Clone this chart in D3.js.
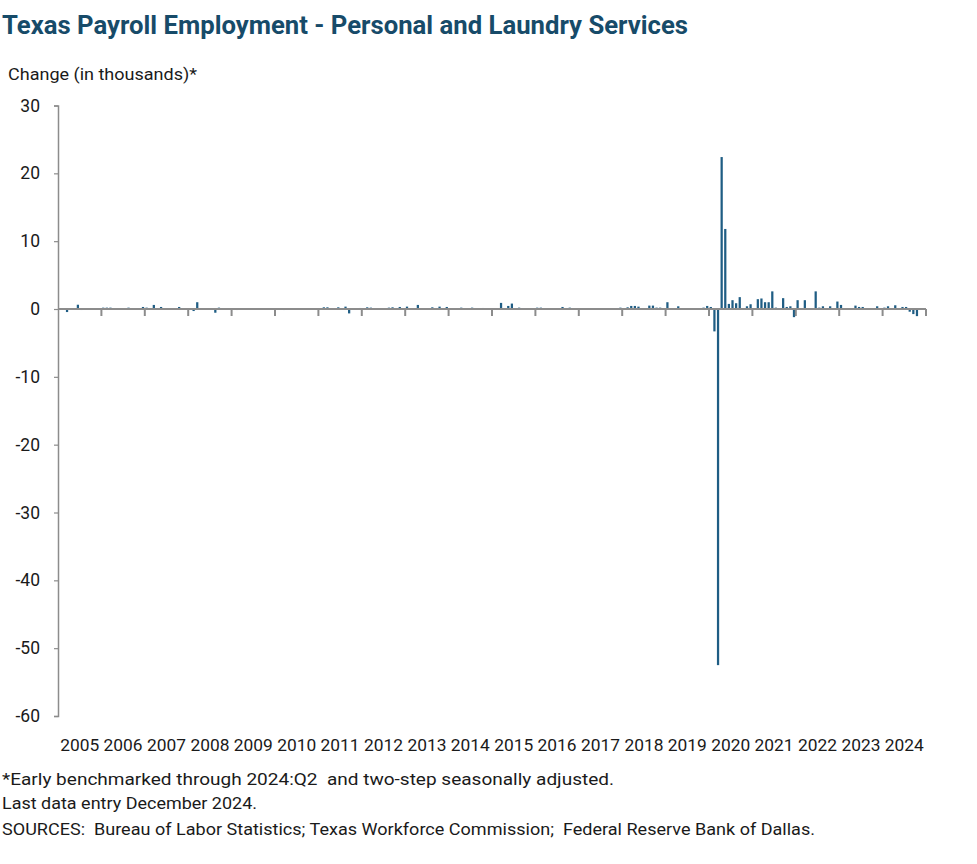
<!DOCTYPE html>
<html>
<head>
<meta charset="utf-8">
<script src="https://cdn.jsdelivr.net/npm/d3@7"></script>
<style>
  html, body { margin: 0; padding: 0; background: #fff; }
  svg { display: block; }
  text { font-family: Roboto, "Liberation Sans", sans-serif; white-space: pre; }
</style>
</head>
<body>
<script>
// ---- Data (monthly change, thousands) ----
const years = ["2005","2006","2007","2008","2009","2010","2011","2012","2013","2014",
               "2015","2016","2017","2018","2019","2020","2021","2022","2023","2024"];
const yTicks = [30, 20, 10, 0, -10, -20, -30, -40, -50, -60];

const v2005 = [0, 0, -0.45, 0, 0, 0.63, -0.15, 0, 0, 0, 0, 0];
const v2006 = [0.2, 0.2, 0.2, 0, 0, 0, 0, 0.2, 0, 0, 0, 0.3];
const v2007 = [0.2, 0, 0.6, 0, 0.3, 0, 0, 0, 0, 0.3, 0, 0];
const v2008 = [0, -0.3, 1.0, 0, 0, 0, 0, -0.55, 0.2, 0, 0, 0];
const v2009 = [0, -0.15, 0, 0, 0, 0, 0, 0, 0, 0, 0, 0];
const v2010 = [0, 0, -0.15, 0, 0, 0, 0, 0, 0, 0, 0, 0];
const v2011 = [0, 0.25, 0.25, 0, 0, 0.25, 0, 0.35, -0.65, 0, 0, 0.15];
const v2012 = [0, 0.25, 0.2, 0, 0, 0, 0, 0.2, 0.25, 0, 0.3, 0];
const v2013 = [0.35, 0, 0, 0.6, 0, 0, 0, 0.25, 0, 0.35, 0, 0.3];
const v2014 = [0, 0, 0, 0.2, 0, 0, 0.2, 0, 0, 0.15, 0, 0];
const v2015 = [0.1, 0, 0.9, 0, 0.45, 0.8, 0, 0.2, 0, 0, 0, 0];
const v2016 = [0.2, 0.2, 0, 0, 0, 0, 0, 0.3, 0, 0.2, 0, 0];
const v2017 = [0, 0, 0, 0, 0, 0, 0, 0, 0, 0, 0, 0.2];
const v2018 = [0, 0.25, 0.45, 0.45, 0.35, 0, 0, 0.5, 0.5, 0.2, 0.2, 0];
const v2019 = [1.0, 0, 0, 0.4, 0, 0, 0, 0, 0, 0, 0.2, 0.45];
const v2020 = [0.3, -3.3, -52.5, 22.4, 11.8, 0.75, 1.3, 0.85, 1.75, 0, 0.4, 0.7];
const v2021 = [0, 1.45, 1.55, 1.0, 1.0, 2.6, 0.2, 0, 1.6, 0.3, 0.4, -1.2];
const v2022 = [1.3, 0, 1.3, 0, 0, 2.6, 0.2, 0.4, 0, 0.4, 0, 1.1];
const v2023 = [0.6, 0, 0, 0, 0.5, 0.3, 0.3, 0, 0, 0, 0.4, 0];
const v2024 = [0.2, 0.4, 0, 0.55, 0, 0.3, 0.3, -0.4, -0.75, -1.05, 0, 0];

const values = [].concat(v2005, v2006, v2007, v2008, v2009, v2010, v2011, v2012, v2013, v2014,
                         v2015, v2016, v2017, v2018, v2019, v2020, v2021, v2022, v2023, v2024);
const months = values.map((d, i) => years[Math.floor(i / 12)] + "-" + String(i % 12 + 1).padStart(2, "0"));

const titleText = "Texas Payroll Employment - Personal and Laundry Services";
const yTitleText = "Change (in thousands)*";
const notes = [
  "*Early benchmarked through 2024:Q2  and two-step seasonally adjusted.",
  "Last data entry December 2024.",
  "SOURCES:  Bureau of Labor Statistics; Texas Workforce Commission;  Federal Reserve Bank of Dallas."
];

// ---- Layout ----
const W = 977, H = 864;
const plot = { left: 58, right: 926, top: 105.5, bottom: 716 };
const barColor = "#1f5d84";
const axisColor = "#8c8c8c";

const svg = d3.select("body").append("svg").attr("width", W).attr("height", H);

const x = d3.scaleBand().domain(months).range([plot.left, plot.right]).paddingInner(0.38).paddingOuter(0.19);
const xYear = d3.scaleBand().domain(years).range([plot.left, plot.right]);
const y = d3.scaleLinear().domain([-60, 30]).range([plot.bottom, plot.top]);

function fitText(sel, width) {
  sel.attr("textLength", width).attr("lengthAdjust", "spacingAndGlyphs");
}

// Title
svg.append("text").attr("x", 2).attr("y", 34)
  .attr("font-size", 25).attr("font-weight", 700).attr("fill", "#174b69")
  .text(titleText).call(fitText, 686);

// Y axis title
svg.append("text").attr("x", 8).attr("y", 80)
  .attr("font-size", 16.5).attr("fill", "#1a1a1a")
  .text(yTitleText).call(fitText, 189);

// Bars
svg.append("g").selectAll("rect").data(values).join("rect")
  .attr("x", (d, i) => x(months[i]))
  .attr("width", x.bandwidth())
  .attr("y", d => y(Math.max(0, d)))
  .attr("height", d => Math.abs(y(d) - y(0)))
  .attr("fill", barColor);

// Y axis
const yAxis = d3.axisLeft(y).tickValues(yTicks).tickSize(4).tickPadding(14).tickFormat(d => String(d));
const gy = svg.append("g").attr("transform", `translate(${plot.left},0)`).call(yAxis);
gy.select(".domain").attr("stroke", axisColor).attr("stroke-width", 1.5);
gy.selectAll(".tick line").attr("stroke", axisColor).attr("stroke-width", 1.2);
gy.selectAll(".tick text").attr("font-size", 17.5).attr("fill", "#1a1a1a")
  .attr("font-family", "Roboto, sans-serif");

// X axis at zero with year ticks
const gx = svg.append("g").attr("transform", `translate(0,${y(0)})`);
gx.append("line").attr("x1", plot.left).attr("x2", plot.right)
  .attr("y1", 0).attr("y2", 0).attr("stroke", axisColor).attr("stroke-width", 2);
gx.selectAll("line.yt").data(years.slice(1).concat(["end"])).join("line")
  .attr("class", "yt")
  .attr("x1", d => d === "end" ? plot.right : xYear(d))
  .attr("x2", d => d === "end" ? plot.right : xYear(d))
  .attr("y1", 0).attr("y2", 7).attr("stroke", axisColor).attr("stroke-width", 2);

// Year labels at bottom
svg.append("g").selectAll("text").data(years).join("text")
  .attr("x", d => xYear(d) + xYear.bandwidth() / 2)
  .attr("y", 751)
  .attr("text-anchor", "middle")
  .attr("font-size", 17).attr("fill", "#1a1a1a")
  .text(d => d).call(fitText, 39);

// Footnotes
const noteW = [612, 255, 813];
const noteY = [785, 809, 835];
notes.forEach((t, i) => {
  svg.append("text").attr("x", 2).attr("y", noteY[i])
    .attr("font-size", 16.5).attr("fill", "#1a1a1a")
    .text(t).call(fitText, noteW[i]);
});
</script>
</body>
</html>
